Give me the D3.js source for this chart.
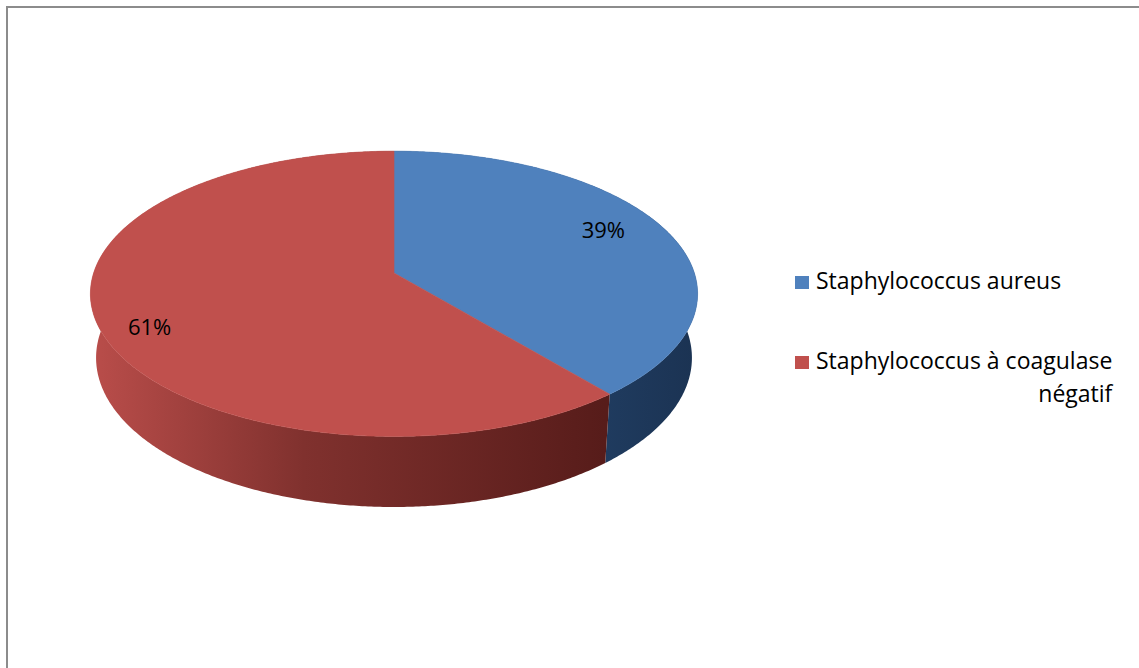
<!DOCTYPE html>
<html><head><meta charset="utf-8">
<script src="https://cdn.jsdelivr.net/npm/d3@7"></script>
<style>body{margin:0;background:#fff}svg{display:block}</style>
</head><body>
<script>
// Data
const categories = ["Staphylococcus aureus", "Staphylococcus à coagulase négatif"];
const legendLines = [["Staphylococcus aureus"], ["Staphylococcus à coagulase", "négatif"]];
const values = [39, 61];
const percentLabels = ["39%", "61%"];

// Style
const topColors = ["#4f81bd", "#c0504d"];
const sideStops = [
  [["0", "#2a4a75"], ["0.8", "#213e63"], ["1", "#1b3353"]],
  [["0", "#b94d4a"], ["0.35", "#80312e"], ["0.85", "#571c1a"], ["1", "#571c1a"]]
];

const W = 1139, H = 668;
const svg = d3.select("body").append("svg").attr("width", W).attr("height", H);
const font = "'Open Sans', 'Noto Sans', sans-serif";

// Chart frame
svg.append("rect").attr("x", 7).attr("y", 7).attr("width", 1300).attr("height", 900)
  .attr("fill", "none").attr("stroke", "#8c8c8c").attr("stroke-width", 2);

// Perspective projection of a tilted disc
const cx = 394, cy = 273;
const elev = 27.7 * Math.PI / 180, dist = 6.073, focal = 1824, thick = 0.243;
const sa = Math.sin(elev), ca = Math.cos(elev);
function project(theta, r, y) {
  const X = r * Math.sin(theta), Z = r * Math.cos(theta);
  const u = y * ca + Z * sa;
  const D = dist + Z * ca - y * sa;
  return [cx + focal * X / D, cy - focal * u / D];
}
function arcPoints(a0, a1, y) {
  const n = Math.max(2, Math.ceil((a1 - a0) / (Math.PI / 360)));
  return d3.range(n + 1).map(i => project(a0 + (a1 - a0) * i / n, 1, y));
}

const arcs = d3.pie().sort(null).value(d => d)(values);
const line = d3.line();

const defs = svg.append("defs");
sideStops.forEach((stops, i) => {
  const g = defs.append("linearGradient").attr("id", "side" + i)
    .attr("gradientUnits", "userSpaceOnUse")
    .attr("x1", project(-Math.PI / 2, 1, 0)[0]).attr("x2", project(Math.PI / 2, 1, 0)[0])
    .attr("y1", 0).attr("y2", 0);
  stops.forEach(s => g.append("stop").attr("offset", s[0]).attr("stop-color", s[1]));
});

// Outer walls
const walls = svg.append("g");
arcs.forEach((a, i) => {
  const top = arcPoints(a.startAngle, a.endAngle, 0);
  const bottom = arcPoints(a.startAngle, a.endAngle, -thick).reverse();
  walls.append("path").attr("d", line(top.concat(bottom)) + "Z")
    .attr("fill", `url(#side${i})`);
});

// Top faces
const tops = svg.append("g");
arcs.forEach((a, i) => {
  const pts = [project(0, 0, 0)].concat(arcPoints(a.startAngle, a.endAngle, 0));
  tops.append("path").attr("d", line(pts) + "Z").attr("fill", topColors[i])
    .attr("stroke", topColors[i]).attr("stroke-width", 0.6);
});

// Percentage labels
arcs.forEach((a, i) => {
  const mid = (a.startAngle + a.endAngle) / 2 - 5 * Math.PI / 180;
  const p = project(mid, 0.83, 0);
  svg.append("text").attr("x", p[0] - 6).attr("y", p[1] + 3).attr("dy", "0.36em")
    .attr("text-anchor", "middle").attr("font-family", font).attr("font-size", 22)
    .attr("fill", "#000").text(percentLabels[i]);
});

// Legend
const legend = svg.append("g").attr("transform", "translate(795,276)");
categories.forEach((c, i) => {
  const g = legend.append("g").attr("transform", `translate(0,${i * 80})`);
  g.append("rect").attr("width", 14).attr("height", 13).attr("fill", topColors[i]);
  const first = g.append("text").attr("x", 21).attr("y", 13).attr("font-family", font)
    .attr("font-size", 23).attr("fill", "#000").text(legendLines[i][0]);
  const w = first.node().getComputedTextLength();
  legendLines[i].slice(1).forEach((t, j) => {
    g.append("text").attr("x", 21 + w).attr("y", 13 + 33 * (j + 1)).attr("text-anchor", "end")
      .attr("font-family", font).attr("font-size", 23).attr("fill", "#000").text(t);
  });
});
</script>
</body></html>
